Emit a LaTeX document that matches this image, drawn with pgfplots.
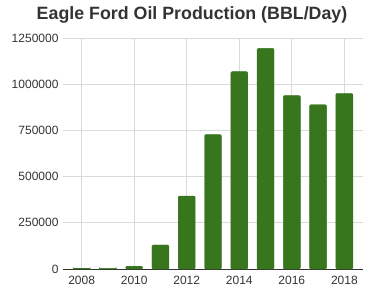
\documentclass[border=0pt]{standalone}
\usepackage{pgfplots}
\pgfplotsset{compat=1.18}
\usepackage{fontspec}
\setmainfont{Liberation Sans}
\definecolor{bargreen}{HTML}{38761D}
\definecolor{gridgray}{HTML}{DADADA}
\definecolor{labelgray}{HTML}{333333}
\begin{document}
\begin{tikzpicture}
\path[use as bounding box] (0,0) rectangle (380pt,290pt);
\node[font=\bfseries\fontsize{17.8}{20}\selectfont, text=labelgray] at (192pt,275pt) {Eagle Ford Oil Production (BBL/Day)};
\begin{axis}[
  at={(63pt,21pt)}, anchor=south west,
  scale only axis, width=300pt, height=231pt,
  xmin=2007.29, xmax=2018.71,
  ymin=0, ymax=1250000,
  enlargelimits=false,
  axis x line*=bottom, axis y line*=left,
  x axis line style={draw=labelgray, line width=0.9pt, -},
  y axis line style={draw=none},
  xtick={2008,2010,2012,2014,2016,2018},
  ytick={0,250000,500000,750000,1000000,1250000},
  major tick length=0pt,
  xmajorgrids, ymajorgrids,
  grid style={gridgray, line width=0.8pt},
  scaled y ticks=false,
  /pgf/number format/assume math mode=true,
  /pgf/number format/fixed,
  /pgf/number format/1000 sep={},
  ticklabel style={font=\fontsize{12}{14}\selectfont, text=labelgray},
  yticklabel style={xshift=-1pt},
  xticklabel style={yshift=-3.5pt},
  ybar, bar width=17pt,
]
\addplot[fill=bargreen, draw=bargreen, rounded corners=1.2pt] coordinates {
 (2008,3000) (2009,4000) (2010,15000) (2011,130000) (2012,395000)
 (2013,727000) (2014,1068000) (2015,1194000) (2016,939000)
 (2017,889000) (2018,951000)
};
\end{axis}
\end{tikzpicture}
\end{document}
